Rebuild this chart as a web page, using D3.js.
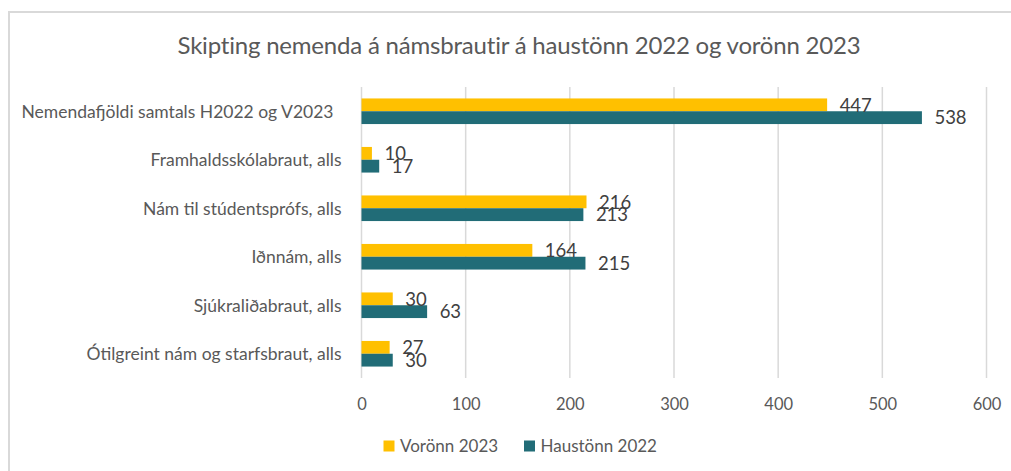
<!DOCTYPE html>
<html>
<head>
<meta charset="utf-8">
<script src="https://cdn.jsdelivr.net/npm/d3@7"></script>
<style>
  body { margin: 0; background: #fff; }
  text { font-family: Lato, "Open Sans", sans-serif; }
</style>
</head>
<body>
<div id="chart"></div>
<script>
// data
const categories = [
  "Nemendafjöldi samtals H2022 og V2023",
  "Framhaldsskólabraut, alls",
  "Nám til stúdentsprófs, alls",
  "Iðnnám, alls",
  "Sjúkraliðabraut, alls",
  "Ótilgreint nám og starfsbraut, alls"
]
const vor2023 = [447, 10, 216, 164, 30, 27]
const haust2022 = [538, 17, 213, 215, 63, 30]
const seriesNames = ["Vorönn 2023", "Haustönn 2022"]
const seriesColors = ["#FFC000", "#216C77"]
const xTicks = [0, 100, 200, 300, 400, 500, 600]
const title = "Skipting nemenda á námsbrautir á haustönn 2022 og vorönn 2023"

const rows = categories.map((c, i) => ({cat: c, vals: [vor2023[i], haust2022[i]]}))

let dimensions = {
  width: 1011,
  height: 471,
  margin: {top: 87, right: 24, bottom: 93, left: 361.5},
}
dimensions.boundedHeight = 291

const svg = d3.select("#chart").append("svg")
    .attr("width", dimensions.width)
    .attr("height", dimensions.height)

// chart frame (only top and left edges are inside the picture)
svg.append("rect")
    .attr("x", 9).attr("y", 12)
    .attr("width", 1020).attr("height", 480)
    .attr("fill", "none")
    .attr("stroke", "#d9d9d9")
    .attr("stroke-width", 2)

svg.append("text")
    .attr("x", 519).attr("y", 54)
    .attr("text-anchor", "middle")
    .attr("font-size", 24)
    .attr("letter-spacing", -0.2)
    .attr("fill", "#595959")
    .text(title)

const bounds = svg.append("g")
    .attr("transform", `translate(${dimensions.margin.left},${dimensions.margin.top})`)

const xScale = d3.scaleLinear()
  .domain([0, 600])
  .range([0, 625])

const yScale = d3.scaleBand()
  .domain(categories)
  .range([0, dimensions.boundedHeight])
  .paddingInner(0.472)
  .paddingOuter(0.236)

const subScale = d3.scaleBand()
  .domain([0, 1])
  .range([0, yScale.bandwidth()])

// gridlines
bounds.append("g")
  .selectAll("line")
  .data(xTicks)
  .enter().append("line")
    .attr("x1", d => xScale(d)).attr("x2", d => xScale(d))
    .attr("y1", 0).attr("y2", dimensions.boundedHeight)
    .attr("stroke", "#d9d9d9")
    .attr("stroke-width", 1.5)

const xAxis = bounds.append("g")
    .attr("transform", `translate(0,${dimensions.boundedHeight})`)
    .call(d3.axisBottom(xScale).tickValues(xTicks).tickSize(0).tickPadding(0))
xAxis.select(".domain").remove()
xAxis.selectAll("text")
    .attr("y", 26)
    .attr("dy", "0.36em")
    .attr("font-size", 16.5)
    .attr("fill", "#595959")
    .style("font-family", "Lato, sans-serif")

// category labels
bounds.append("g")
  .selectAll("text")
  .data(rows)
  .enter().append("text")
    .attr("x", (d, i) => i == 0 ? -28 : -20)
    .attr("y", d => yScale(d.cat) + yScale.bandwidth() / 2)
    .attr("dy", "0.36em")
    .attr("text-anchor", "end")
    .attr("font-size", 17.5)
    .attr("fill", "#595959")
    .text(d => d.cat)

const groups = bounds.selectAll(".grp")
  .data(rows)
  .enter().append("g")
    .attr("class", "grp")
    .attr("transform", d => `translate(0,${yScale(d.cat)})`)

groups.selectAll("rect")
  .data(d => d.vals)
  .enter().append("rect")
    .attr("x", 0)
    .attr("y", (v, j) => subScale(j))
    .attr("width", v => xScale(v))
    .attr("height", subScale.bandwidth())
    .attr("fill", (v, j) => seriesColors[j])

groups.selectAll(".lbl")
  .data(d => d.vals)
  .enter().append("text")
    .attr("class", "lbl")
    .attr("x", v => xScale(v) + 12.5)
    .attr("y", (v, j) => subScale(j) + subScale.bandwidth() / 2)
    .attr("dy", "0.36em")
    .attr("font-size", 18.5)
    .attr("fill", "#404040")
    .text(v => v)

// legend
const legend = svg.append("g")
  .selectAll("g")
  .data(seriesNames)
  .enter().append("g")
    .attr("transform", (d, i) => `translate(${[383.5, 524][i]},445.5)`)
legend.append("rect")
    .attr("x", 0).attr("y", -5)
    .attr("width", 11).attr("height", 11)
    .attr("fill", (d, i) => seriesColors[i])
legend.append("text")
    .attr("x", 16.5).attr("y", 0)
    .attr("dy", "0.36em")
    .attr("font-size", 17)
    .attr("fill", "#595959")
    .text(d => d)
</script>
</body>
</html>
